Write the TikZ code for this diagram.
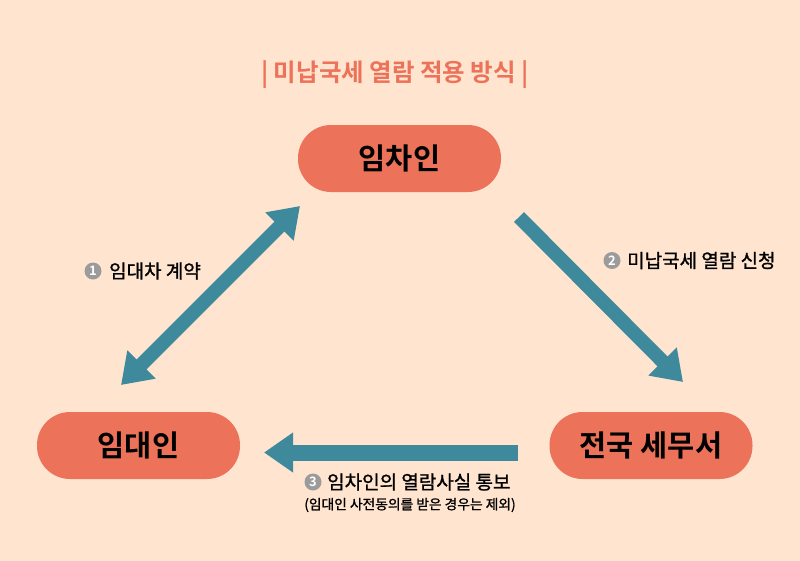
\documentclass[tikz,border=0pt]{standalone}
\usepackage{fontspec}
\setmainfont{Noto Sans CJK KR}[BoldFont={Noto Sans CJK KR Bold}]
\newfontfamily\krmed{Noto Sans CJK KR}[FakeBold=1.2]
\usepackage{xcolor}
\usepackage{tikz}
\usetikzlibrary{arrows.meta,positioning}
\definecolor{bgpeach}{HTML}{FFE5D0}
\definecolor{pillorange}{HTML}{EC7359}
\definecolor{arrowteal}{HTML}{3F899C}
\definecolor{numgrey}{HTML}{9B9B9B}
\tikzset{
  pillbox/.style={
    rectangle, rounded corners=33pt, fill=pillorange, inner sep=0pt,
    minimum width=203pt, minimum height=67pt,
    font=\fontsize{29.5}{32}\selectfont\bfseries
  },
  flowarrow/.style={-{Triangle[length=29pt,width=38pt]}, line width=#1, draw=arrowteal},
  flowarrow/.default=14pt,
  dualarrow/.style={{Triangle[length=29pt,width=38pt]}-{Triangle[length=29pt,width=38pt]}, line width=14pt, draw=arrowteal},
  stepnum/.style={circle, fill=numgrey, text=white, inner sep=0pt, minimum size=17pt,
    font=\fontsize{13}{13}\selectfont\bfseries},
  steptext/.style={anchor=west, inner sep=0pt, font=\krmed\fontsize{19}{22}\selectfont}
}
\begin{document}
\begin{tikzpicture}[x=1pt,y=-1pt]
\useasboundingbox (0,0) rectangle (800,560);
\fill[bgpeach] (-5,-5) rectangle (805,565);

\node[text=pillorange, font=\fontsize{24.5}{28}\selectfont\bfseries] (title) at (395,75)
  {| 미납국세 열람 적용 방식 |};

% parties
\node[pillbox] (tenant) at (399.5,158.5) {임차인};
\node[pillbox] (landlord) at (138.5,445.5) {임대인};
\node[pillbox] (taxoffice) at (651,445.5) {전국 세무서};

% arrow ends
\coordinate (c1a) at (121,385);
\coordinate (c1b) at (300,206);
\coordinate (c2a) at (519,217);
\coordinate (c2b) at (683,382);
\coordinate (c3a) at (518,452.5);
\coordinate (c3b) at (264,452.5);

\draw[dualarrow] (c1a) -- (c1b);
\draw[flowarrow] (c2a) -- (c2b);
\draw[flowarrow=16pt] (c3a) -- (c3b);

% step labels
\node[stepnum] (n1) at (93,271) {1};
\node[steptext] (t1) at (109,271) {임대차 계약};
\node[stepnum] (n2) at (612,260.5) {2};
\node[steptext] (t2) at (627,260.5) {미납국세 열람 신청};
\node[stepnum] (n3) at (313,482) {3};
\node[steptext] (t3) at (327,482) {임차인의 열람사실 통보};
\node[inner sep=0pt, font=\krmed\fontsize{13.75}{16}\selectfont] (t3b) at (410,505)
  {(임대인 사전동의를 받은 경우는 제외)};
\end{tikzpicture}
\end{document}
